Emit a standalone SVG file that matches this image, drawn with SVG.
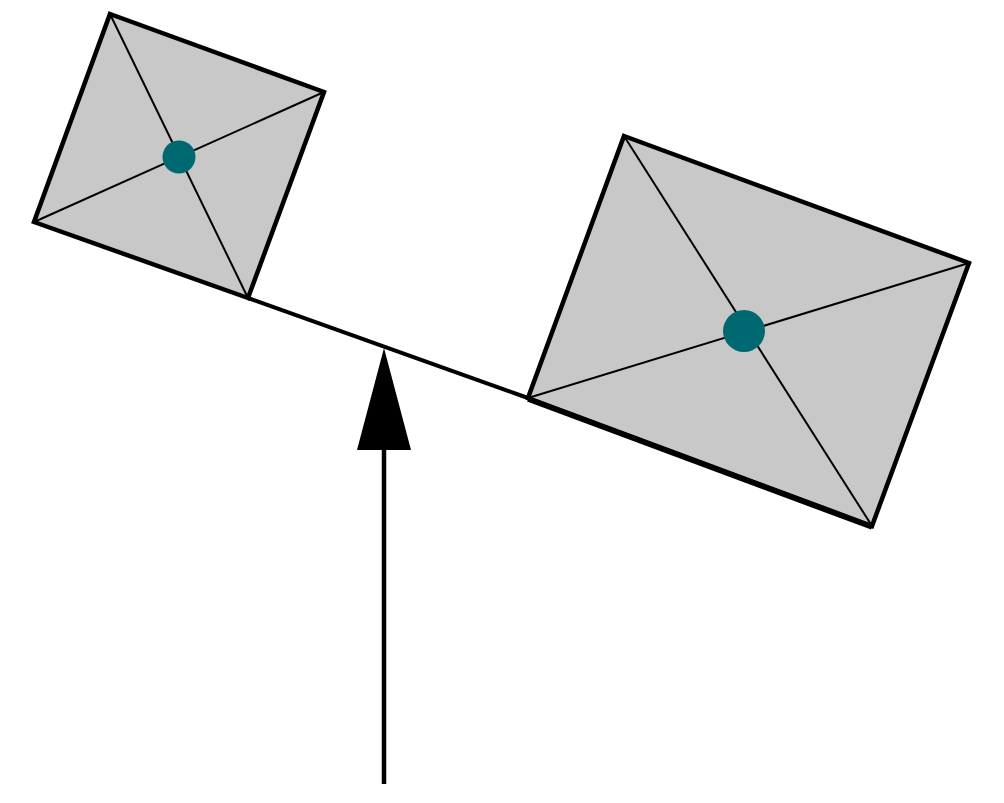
<svg xmlns="http://www.w3.org/2000/svg" width="1004" height="803" viewBox="0 0 1004 803">
<style>
.box{fill:#c8c8c8;stroke:#000;stroke-width:4.5;stroke-linejoin:miter}
.diag{stroke:#000;stroke-width:2;fill:none}
.dot{fill:#006870}
.beam{stroke:#000;stroke-width:4;fill:none}
</style>
<rect width="1004" height="803" fill="#fff"/>
<g id="connectors">
<line class="beam" x1="248" y1="298" x2="528" y2="398"/>
<line x1="384" y1="784" x2="384" y2="445" stroke="#000" stroke-width="4.5"/>
<polygon points="384,348 411,450 357,450" fill="#000"/>
</g>
<g id="left-box">
<polygon class="box" points="110,14 324,92 248,298 34,222"/>
<line class="diag" x1="110" y1="14" x2="248" y2="298"/>
<line class="diag" x1="324" y1="92" x2="34" y2="222"/>
<circle class="dot" cx="179" cy="157" r="16.5"/>
</g>
<g id="right-box">
<polygon class="box" points="624,136 969,263 872,526 528,398"/>
<line x1="528" y1="399" x2="872" y2="527" stroke="#000" stroke-width="5.5"/>
<line class="diag" x1="624" y1="136" x2="872" y2="526"/>
<line class="diag" x1="969" y1="263" x2="528" y2="398"/>
<circle class="dot" cx="744" cy="331" r="21"/>
</g>
</svg>
